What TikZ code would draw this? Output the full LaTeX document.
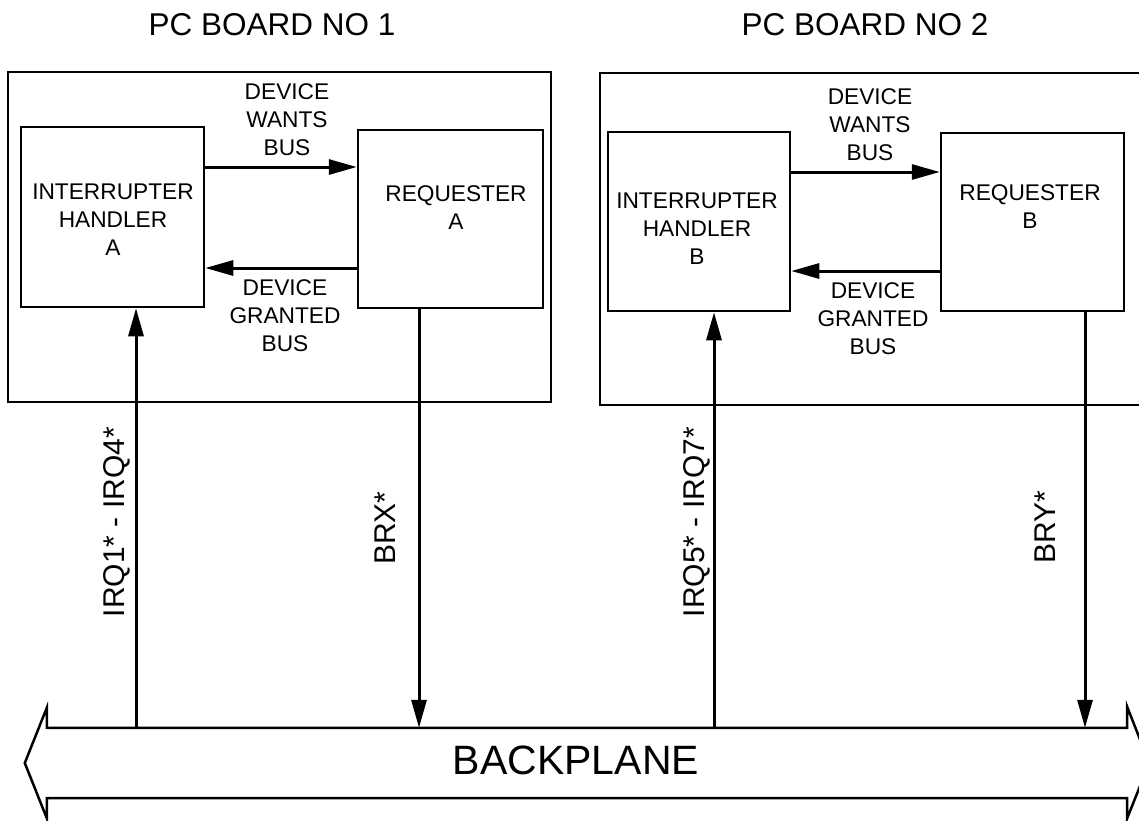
\documentclass[tikz,border=0pt]{standalone}
\usepackage{fontspec}
\setmainfont{Liberation Sans}
\usetikzlibrary{arrows.meta}
\begin{document}
\begin{tikzpicture}[x=1pt,y=-1pt,
  board/.style={draw, line width=2pt, inner sep=0pt},
  blk/.style={draw, line width=2.5pt, inner sep=0pt},
  conn/.style={line width=3pt, -{Triangle[length=28pt,width=15pt]}},
  bpline/.style={line width=2.5pt, line join=miter},
  lbl/.style={font=\fontsize{22.7}{28}\selectfont, align=center, inner sep=0pt},
  title/.style={font=\fontsize{31.5}{36}\selectfont, inner sep=0pt},
  sig/.style={font=\fontsize{30}{36}\selectfont, inner sep=0pt, rotate=90},
  bptext/.style={font=\fontsize{41}{48}\selectfont, inner sep=0pt}]
\clip (0,0) rectangle (1139,820);
\fill[white] (0,0) rectangle (1139,820);

% titles
\node[title] (t1) at (272,25) {PC BOARD NO 1};
\node[title] (t2) at (865,25) {PC BOARD NO 2};

% boards
\node[board, minimum width=543pt, minimum height=330pt] (brd1) at (279.5,237) {};
\node[board, minimum width=560pt, minimum height=332pt] (brd2) at (880,239) {};

% blocks
\node[blk, minimum width=183pt, minimum height=180pt] (intA) at (112.5,217) {};
\node[blk, minimum width=185pt, minimum height=178pt] (reqA) at (450.5,219) {};
\node[blk, minimum width=182pt, minimum height=179pt] (intB) at (699,221.5) {};
\node[blk, minimum width=183pt, minimum height=178pt] (reqB) at (1032.5,222) {};

% block texts
\node[lbl] (tIA) at (113,220) {INTERRUPTER\\HANDLER\\A};
\node[lbl] (tRA) at (456,207.5) {REQUESTER\\A};
\node[lbl] (tIB) at (697,228.5) {INTERRUPTER\\HANDLER\\B};
\node[lbl] (tRB) at (1030,207) {REQUESTER\\B};

% arrow labels
\node[lbl] (wA) at (287,119.5) {DEVICE\\WANTS\\BUS};
\node[lbl] (gA) at (285,315.5) {DEVICE\\GRANTED\\BUS};
\node[lbl] (wB) at (870,125) {DEVICE\\WANTS\\BUS};
\node[lbl] (gB) at (873,319) {DEVICE\\GRANTED\\BUS};

% backplane
\node[inner sep=0pt, minimum width=1080pt, minimum height=70pt] (bp) at (587,763) {};
\draw[bpline] ([xshift=-22pt]bp.west) -- ([yshift=20pt]bp.north west) -- (bp.north west)
  -- (bp.north east) -- ([yshift=21pt]bp.north east) -- ([xshift=22pt]bp.east)
  -- ([yshift=-20pt]bp.south east) -- (bp.south east) -- (bp.south west)
  -- ([yshift=-20pt]bp.south west) -- cycle;
\node[bptext] (bpt) at (576,760) {BACKPLANE};

% horizontal connectors
\coordinate (yA1) at (0,167);
\coordinate (yA2) at (0,268);
\coordinate (yB1) at (0,172);
\coordinate (yB2) at (0,271);
\draw[conn] (intA.east |- yA1) -- (reqA.west |- yA1);
\draw[conn] (reqA.west |- yA2) -- (intA.east |- yA2);
\draw[conn] (intB.east |- yB1) -- (reqB.west |- yB1);
\draw[conn] (reqB.west |- yB2) -- (intB.east |- yB2);

% vertical connectors
\coordinate (xA1) at (136,0);
\coordinate (xA2) at (419,0);
\coordinate (xB1) at (714,0);
\coordinate (xB2) at (1085,0);
\draw[conn] (bp.north -| xA1) -- (intA.south -| xA1);
\draw[conn] (reqA.south -| xA2) -- (bp.north -| xA2);
\draw[conn] (bp.north -| xB1) -- (intB.south -| xB1);
\draw[conn] (reqB.south -| xB2) -- (bp.north -| xB2);

% signal labels
\node[sig] (s1) at (117,522) {IRQ1* - IRQ4*};
\node[sig] (s2) at (385,528) {BRX*};
\node[sig] (s3) at (697,522) {IRQ5* - IRQ7*};
\node[sig] (s4) at (1045,527) {BRY*};
\end{tikzpicture}
\end{document}
